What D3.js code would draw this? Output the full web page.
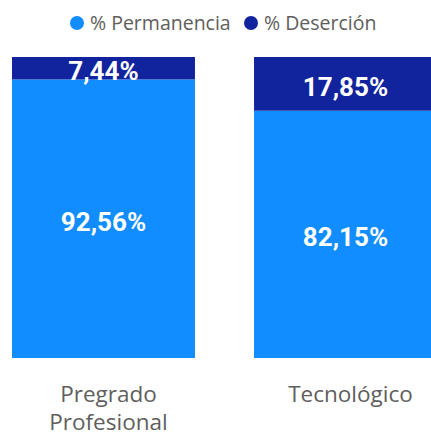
<!DOCTYPE html>
<html>
<head>
<meta charset="utf-8">
<script src="https://cdn.jsdelivr.net/npm/d3@7"></script>
<style>
  html, body { margin: 0; padding: 0; background: #fff; overflow: hidden; }
</style>
</head>
<body>
<div id="chart"></div>
<script>
const categories = [["Pregrado", "Profesional"], ["Tecnológico"]];
const categoryKeys = ["Pregrado Profesional", "Tecnológico"];
const permanencia = [92.56, 82.15];
const desercion = [7.44, 17.85];
const seriesNames = ["% Permanencia", "% Deserción"];
const colors = ["#118DFF", "#12239E"];

const width = 431;
const height = 436;

const svg = d3.select("#chart").append("svg").attr("width", width).attr("height", height);

const x = d3.scaleBand().domain(categoryKeys).range([12, 437]).paddingInner(0.244).paddingOuter(0);
const y = d3.scaleLinear().domain([0, 100]).range([358, 57]);

const fmt = (v) => v.toFixed(2).replace(".", ",") + "%";

const rows = categoryKeys.map((k, i) => ({ key: k, Permanencia: permanencia[i], Desercion: desercion[i] }));
const stack = d3.stack().keys(["Permanencia", "Desercion"])(rows);

const layer = svg.selectAll("g.layer")
  .data(stack)
  .enter()
  .append("g")
  .attr("class", "layer")
  .attr("fill", (d, i) => colors[i]);

layer.selectAll("rect")
  .data((d) => d)
  .enter()
  .append("rect")
  .attr("x", (d) => x(d.data.key))
  .attr("y", (d) => y(d[1]))
  .attr("width", x.bandwidth())
  .attr("height", (d) => y(d[0]) - y(d[1]));

layer.selectAll("text")
  .data((d) => d)
  .enter()
  .append("text")
  .attr("x", (d) => x(d.data.key) + x.bandwidth() / 2)
  .attr("y", (d) => (y(d[0]) + y(d[1])) / 2 + 3)
  .attr("text-anchor", "middle")
  .attr("dominant-baseline", "central")
  .style("font-family", "Roboto, 'DejaVu Sans', sans-serif")
  .style("font-weight", "bold")
  .style("font-size", "26px")
  .style("fill", "#fff")
  .text((d) => fmt(d[1] - d[0]));

// category labels
const axis = svg.append("g");
categoryKeys.forEach((k, i) => {
  const cx = x(k) + x.bandwidth() / 2 + 5;
  const t = axis.append("text")
    .attr("x", cx)
    .attr("y", 402)
    .attr("text-anchor", "middle")
    .style("font-family", "'Open Sans', sans-serif")
    .style("font-size", "22.5px")
    .style("fill", "#605E5C");
  categories[i].forEach((line, j) => {
    t.append("tspan")
      .attr("x", cx)
      .attr("dy", j === 0 ? 0 : 28)
      .text(line);
  });
});

// legend
const legendItems = [
  { name: seriesNames[0], color: colors[0], cx: 77, tx: 90 },
  { name: seriesNames[1], color: colors[1], cx: 251, tx: 264 }
];
const legend = svg.append("g");
legend.selectAll("circle")
  .data(legendItems)
  .enter()
  .append("circle")
  .attr("cx", (d) => d.cx)
  .attr("cy", 23)
  .attr("r", 7)
  .attr("fill", (d) => d.color);
legend.selectAll("text")
  .data(legendItems)
  .enter()
  .append("text")
  .attr("x", (d) => d.tx)
  .attr("y", 30)
  .style("font-family", "'Open Sans', sans-serif")
  .style("font-size", "19.5px")
  .style("fill", "#605E5C")
  .text((d) => d.name);
</script>
</body>
</html>
